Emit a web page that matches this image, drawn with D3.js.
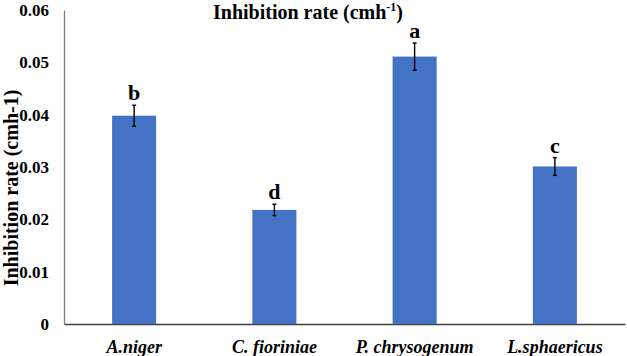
<!DOCTYPE html>
<html>
<head>
<meta charset="utf-8">
<script src="https://cdn.jsdelivr.net/npm/d3@7"></script>
</head>
<body style="margin:0">
<script>
const categories = ["A.niger", "C. fioriniae", "P. chrysogenum", "L.sphaericus"];
const rates = [0.0398, 0.0218, 0.0511, 0.0301];
const errors = [0.0020, 0.0011, 0.0026, 0.0017];
const letters = ["b", "d", "a", "c"];
const yTicks = [0, 0.01, 0.02, 0.03, 0.04, 0.05, 0.06];

const fontFam = '"Times New Roman"';
const width = 627, height = 356;
const margin = {top: 10, right: 2, bottom: 32, left: 64};

const svg = d3.select("body").append("svg")
    .attr("width", width).attr("height", height)
    .style("font-family", fontFam);

const x = d3.scaleBand().domain(categories)
    .range([margin.left, width - margin.right])
    .paddingInner(0.686).paddingOuter(0.343);
const y = d3.scaleLinear().domain([0, 0.06]).range([height - margin.bottom, margin.top]);

// y axis: line only, no ticks
const yAxis = svg.append("g").attr("transform", `translate(${margin.left},0)`)
    .call(d3.axisLeft(y).tickValues(yTicks).tickSize(0).tickPadding(15)
        .tickFormat(d => d === 0 ? "0" : d3.format(".2f")(d)));
yAxis.attr("font-family", null).attr("font-size", null);
yAxis.select(".domain").attr("stroke", "#7f7f7f").attr("stroke-width", 1.3);
yAxis.selectAll("text").style("font-family", fontFam).style("font-size", "17px")
    .style("font-weight", "bold").attr("fill", "#000");

const xAxis = svg.append("g").attr("transform", `translate(0,${y(0)})`)
    .call(d3.axisBottom(x).tickSize(0).tickPadding(16));
xAxis.attr("font-family", null).attr("font-size", null);
xAxis.select(".domain").attr("stroke", "#404040").attr("stroke-width", 1.3);
xAxis.selectAll("text").style("font-family", fontFam).style("font-size", "18px")
    .style("font-weight", "bold").style("font-style", "italic").attr("fill", "#000");

const data = categories.map((c, i) => ({c, v: rates[i], e: errors[i], l: letters[i]}));

svg.append("g").selectAll("rect").data(data).join("rect")
    .attr("x", d => x(d.c)).attr("width", x.bandwidth())
    .attr("y", d => y(d.v)).attr("height", d => y(0) - y(d.v))
    .attr("fill", "#4472c4");

const err = svg.append("g").attr("stroke", "#000").attr("stroke-width", 1.4);
data.forEach(d => {
  const cx = x(d.c) + x.bandwidth() / 2;
  err.append("line").attr("x1", cx).attr("x2", cx).attr("y1", y(d.v + d.e)).attr("y2", y(d.v - d.e));
  err.append("line").attr("x1", cx - 2).attr("x2", cx + 2).attr("y1", y(d.v + d.e)).attr("y2", y(d.v + d.e));
  err.append("line").attr("x1", cx - 2).attr("x2", cx + 2).attr("y1", y(d.v - d.e)).attr("y2", y(d.v - d.e));
});

svg.append("g").selectAll("text").data(data).join("text")
    .attr("x", d => x(d.c) + x.bandwidth() / 2)
    .attr("y", d => y(d.v + d.e) - 5)
    .attr("text-anchor", "middle")
    .style("font-size", "22px").style("font-weight", "bold")
    .text(d => d.l);

// chart title
const title = svg.append("text").attr("x", 308).attr("y", 19)
    .attr("text-anchor", "middle")
    .style("font-size", "20px").style("font-weight", "bold");
title.append("tspan").text("Inhibition rate (cmh");
title.append("tspan").attr("dy", -8).style("font-size", "12px").text("-1");
title.append("tspan").attr("dy", 8).text(")");

// y axis title
svg.append("text")
    .attr("transform", "translate(18,188) rotate(-90)")
    .attr("text-anchor", "middle")
    .style("font-size", "20px").style("font-weight", "bold")
    .text("Inhibition rate (cmh-1)");
</script>
</body>
</html>
